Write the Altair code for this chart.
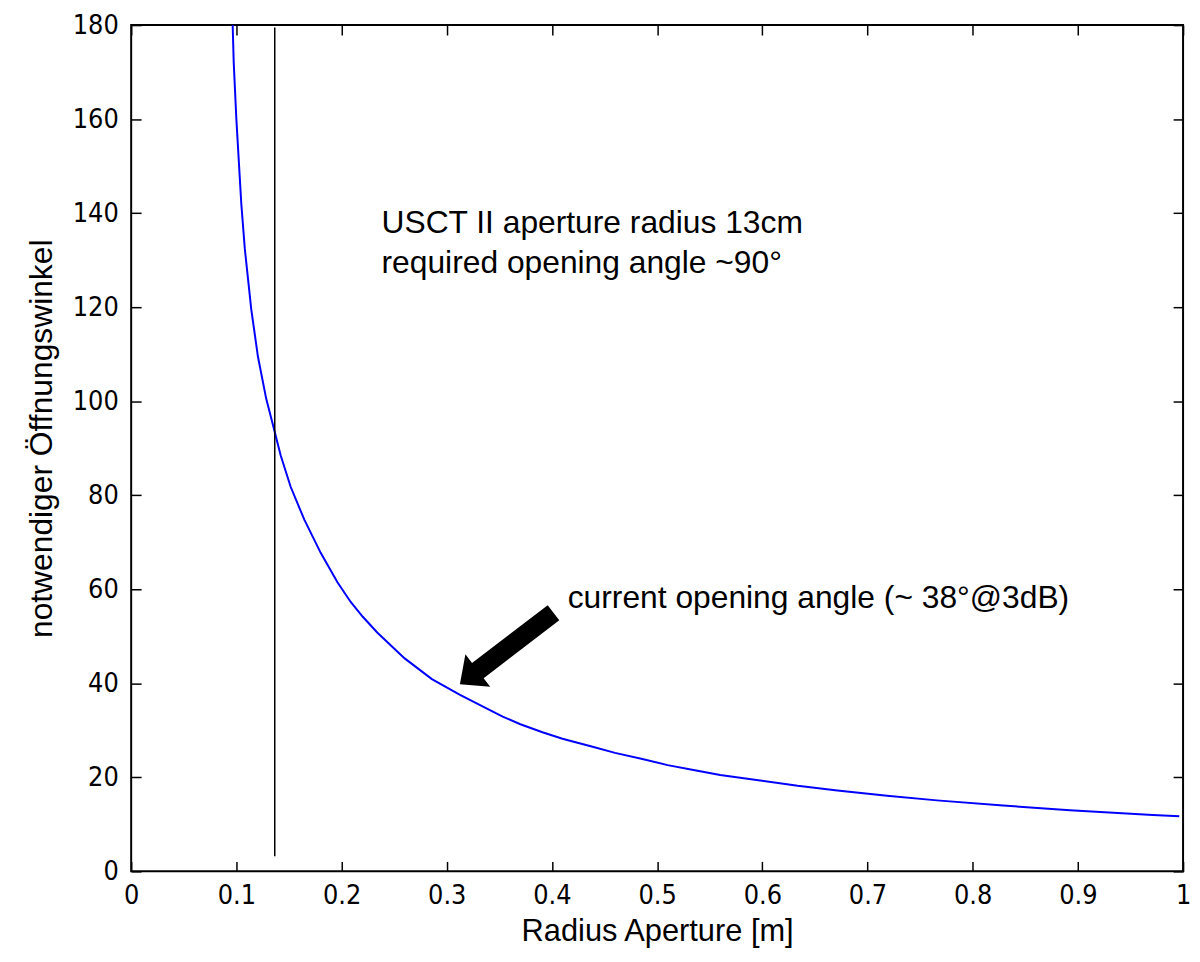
import altair as alt
import pandas as pd

# curve: aperture radius [m] vs required opening angle [deg]
radius = [0.0965, 0.0975, 0.1000, 0.1047, 0.1080, 0.1142, 0.1205, 0.1284, 0.1345,
          0.1421, 0.1516, 0.1646, 0.1803, 0.1961, 0.2087, 0.2200, 0.2339, 0.2600,
          0.2859, 0.3122, 0.3350, 0.3532, 0.3700, 0.3910, 0.4100, 0.4387, 0.4600,
          0.4860, 0.5100, 0.5333, 0.5600, 0.5962, 0.6336, 0.6714, 0.7186, 0.7659,
          0.8289, 0.8924, 0.9712, 0.9964]
angle = [180.0, 172.0, 160.0, 142.0, 132.5, 119.5, 109.5, 100.5, 95.2,
         88.5, 81.8, 74.8, 67.7, 61.5, 57.3, 54.2, 50.8, 45.3,
         40.9, 37.6, 35.0, 32.9, 31.3, 29.6, 28.2, 26.5, 25.2,
         23.9, 22.6, 21.6, 20.5, 19.4, 18.2, 17.2, 16.1, 15.1,
         14.0, 13.0, 12.0, 11.7]

# vertical marker line
vline_x = [0.1365]
vline_y = [3.2]
vline_y2 = [179.5]

# annotations
note_text = ["USCT II aperture radius 13cm",
             "required opening angle ~90°",
             "current opening angle (~ 38°@3dB)"]
note_x = [0.238, 0.238, 0.415]
note_y = [135.8, 127.3, 56.0]

# arrow (centre, direction)
arrow_x = [0.357]
arrow_y = [47.4]
arrow_angle = [232.6]

x_ticks = [0, 0.1, 0.2, 0.3, 0.4, 0.5, 0.6, 0.7, 0.8, 0.9, 1.0]
y_ticks = [0, 20, 40, 60, 80, 100, 120, 140, 160, 180]

TICK_FONT = "Liberation Sans Narrow, DejaVu Sans Condensed, Liberation Sans, Arial"
TEXT_FONT = "Liberation Sans, Arial"

curve_df = pd.DataFrame({"r": radius, "a": angle})
vline_df = pd.DataFrame({"x": vline_x, "y": vline_y, "y2": vline_y2})
note_df = pd.DataFrame({"t": note_text, "x": note_x, "y": note_y})
arrow_df = pd.DataFrame({"x": arrow_x, "y": arrow_y, "ang": arrow_angle})

xscale = alt.Scale(domain=[0, 1], nice=False, zero=False)
yscale = alt.Scale(domain=[0, 180], nice=False, zero=False)

common_axis = dict(offset=-10, tickSize=10, domain=False, grid=False,
                   tickColor="black", tickWidth=1.5,
                   labelFont=TICK_FONT, labelFontSize=27, labelColor="black",
                   titleFont=TEXT_FONT, titleFontSize=31, titleFontWeight="normal",
                   titleColor="black")

x_bottom = alt.Axis(orient="bottom", values=x_ticks, format=".1~f", labelFlush=False,
                    labelOverlap=False, labelPadding=11, title="Radius Aperture [m]",
                    titlePadding=9, **common_axis)
y_left = alt.Axis(orient="left", values=y_ticks, labelOverlap=False, labelPadding=13,
                  title="notwendiger Öffnungswinkel", titlePadding=14, titleY=416,
                  titleFontSize=32, **{k: v for k, v in common_axis.items()
                                       if k != "titleFontSize"})
x_top = alt.Axis(orient="top", values=x_ticks, labels=False, title=None, **common_axis)
y_right = alt.Axis(orient="right", values=y_ticks, labels=False, title=None, **common_axis)

curve = alt.Chart(curve_df).mark_line(color="#0000ff", strokeWidth=2).encode(
    x=alt.X("r:Q", scale=xscale, axis=x_bottom),
    y=alt.Y("a:Q", scale=yscale, axis=y_left),
    order="r:Q",
)

vline = alt.Chart(vline_df).mark_rule(color="black", strokeWidth=1.5).encode(
    x=alt.X("x:Q", scale=xscale, axis=x_top),
    y=alt.Y("y:Q", scale=yscale, axis=y_right),
    y2="y2:Q",
)

notes = alt.Chart(note_df).mark_text(
    align="left", baseline="alphabetic", font=TEXT_FONT, fontSize=32, color="black"
).encode(
    x=alt.X("x:Q", scale=xscale, axis=None),
    y=alt.Y("y:Q", scale=yscale, axis=None),
    text="t:N",
)

arrow_path = ("M0,-1 L0.347,-0.617 L0.162,-0.617 L0.162,1 "
              "L-0.162,1 L-0.162,-0.617 L-0.347,-0.617 Z")
arrow = alt.Chart(arrow_df).mark_point(
    shape=arrow_path, filled=True, color="black", opacity=1, size=14066, strokeWidth=0
).encode(
    x=alt.X("x:Q", scale=xscale, axis=None),
    y=alt.Y("y:Q", scale=yscale, axis=None),
    angle=alt.Angle("ang:Q", scale=None),
)

chart = alt.layer(curve, vline, notes, arrow).resolve_axis(
    x="independent", y="independent"
).properties(
    width=1059, height=852,
    padding={"left": 124, "top": 14, "right": 9, "bottom": 80},
    autosize=alt.AutoSizeParams(type="none"),
    background="white",
).configure_view(stroke="black", strokeWidth=2)

chart.save("out.html", embed_options={"renderer": "svg", "actions": False})
